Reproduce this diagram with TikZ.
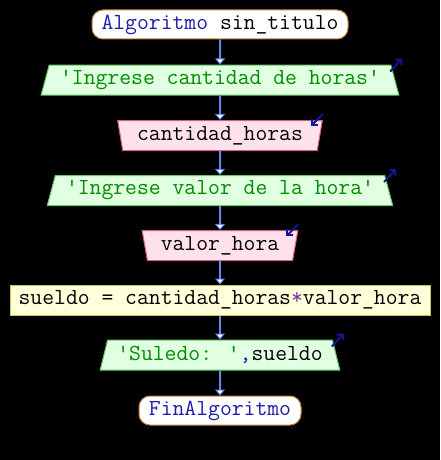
\documentclass[tikz,border=0pt]{standalone}
\usepackage{tikz}
\usetikzlibrary{arrows.meta, shapes.geometric, calc}
\usepackage{xcolor}
\definecolor{termborder}{RGB}{200, 130, 50}
\definecolor{outfill}{RGB}{225, 255, 225}
\definecolor{outborder}{RGB}{100, 200, 100}
\definecolor{infill}{RGB}{255, 225, 236}
\definecolor{inborder}{RGB}{205, 95, 130}
\definecolor{procfill}{RGB}{255, 255, 218}
\definecolor{procborder}{RGB}{200, 195, 95}
\definecolor{flowblue}{RGB}{100, 135, 235}
\definecolor{iconblue}{RGB}{20, 20, 150}
\definecolor{kwblue}{RGB}{30, 30, 170}
\definecolor{strgreen}{RGB}{0, 140, 0}
\definecolor{oppurple}{RGB}{120, 50, 160}
\newcommand{\kw}[1]{{\color{kwblue}#1}}
\newcommand{\str}[1]{{\color{strgreen}#1}}

\tikzset{
  code/.style={font=\fontsize{23}{23}\selectfont\ttfamily, text=black, inner sep=0pt, line width=1pt},
  terminal/.style={code, rectangle, draw=termborder, fill=white, rounded corners=11pt, minimum height=29pt},
  outbox/.style={code, trapezium, trapezium stretches=true, trapezium left angle=69, trapezium right angle=69,
    draw=outborder, fill=outfill, minimum height=30pt},
  inbox/.style={code, trapezium, trapezium stretches=true, trapezium left angle=103, trapezium right angle=103,
    draw=inborder, fill=infill, minimum height=30pt},
  procbox/.style={code, rectangle, draw=procborder, fill=procfill, minimum height=30pt},
  flow/.style={flowblue, line width=2pt, -{Triangle[width=10pt, length=6pt, fill=white, line width=1pt]}},
  ioicon/.style={iconblue, line width=2pt, -{Straight Barb[length=4pt, width=8pt]}}
}

\begin{document}
\begin{tikzpicture}[x=1pt, y=-1pt]

  % ---------- Background ----------
  \useasboundingbox (0,0) rectangle (440,460);
  \fill[black] (0,0) rectangle (440,460);

  % ---------- Blocks ----------
  \node[terminal, minimum width=256pt] (inicio) at (220,24.5) {\kw{Algoritmo} sin\_titulo};
  \node[outbox, minimum width=359pt] (msghoras) at (220,80) {\str{'Ingrese cantidad de horas'}};
  \node[inbox, minimum width=205pt] (leehoras) at (220,135.5) {cantidad\_horas};
  \node[outbox, minimum width=347pt] (msgvalor) at (220,190.5) {\str{'Ingrese valor de la hora'}};
  \node[inbox, minimum width=156pt] (leevalor) at (220,245.5) {valor\_hora};
  \node[procbox, minimum width=420pt] (calculo) at (220,300) {sueldo = cantidad\_horas{\color{oppurple}*}valor\_hora};
  \node[outbox, minimum width=240pt] (muestra) at (220,355) {\str{'Suledo: '}\kw{,}sueldo};
  \node[terminal, minimum width=162pt] (fin) at (220,410.5) {\kw{FinAlgoritmo}};

  % ---------- Flow ----------
  \draw[flow] (inicio) -- (msghoras);
  \draw[flow] (msghoras) -- (leehoras);
  \draw[flow] (leehoras) -- (msgvalor);
  \draw[flow] (msgvalor) -- (leevalor);
  \draw[flow] (leevalor) -- (calculo);
  \draw[flow] (calculo) -- (muestra);
  \draw[flow] (muestra) -- (fin);

  % ---------- In/out markers ----------
  \foreach \blk in {msghoras, msgvalor, muestra}
    \draw[ioicon] ($(\blk.top right corner)+(-1,7)$) -- +(12,-13);
  \foreach \blk in {leehoras, leevalor}
    \draw[ioicon] ($(\blk.top right corner)+(0,-6)$) -- +(-12,12);

\end{tikzpicture}
\end{document}
